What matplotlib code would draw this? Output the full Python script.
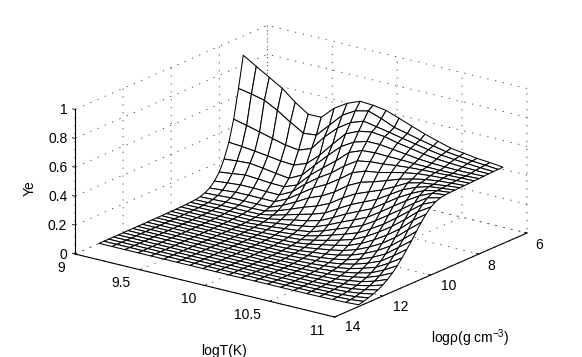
import matplotlib
matplotlib.use("Agg")
import matplotlib.pyplot as plt
import numpy as np
from matplotlib.transforms import Affine2D
from mpl_toolkits.mplot3d import proj3d

plt.rcParams['font.family'] = ['Liberation Sans', 'DejaVu Sans']
plt.rcParams['mathtext.default'] = 'regular'
plt.rcParams['font.size'] = 10
plt.rcParams['grid.linestyle'] = (0, (1.5, 8))
plt.rcParams['grid.color'] = '#333333'
plt.rcParams['grid.linewidth'] = 0.6

log_t = [9.0, 9.1, 9.2, 9.3, 9.4, 9.5, 9.6, 9.7, 9.8, 9.9, 10.0,
         10.1, 10.2, 10.3, 10.4, 10.5, 10.6, 10.7, 10.8, 10.9, 11.0]
log_rho = [7.0, 7.2, 7.4, 7.6, 7.8, 8.0, 8.2, 8.4, 8.6, 8.8, 9.0, 9.2, 9.4, 9.6, 9.8, 10.0,
           10.2, 10.4, 10.6, 10.8, 11.0, 11.2, 11.4, 11.6, 11.8, 12.0, 12.2, 12.4, 12.6, 12.8, 13.0]

# one row per logrho, one column per logT
ye = [
    [.866, .811, .757, .703, .628, .567, .568, .652, .708, .744, .738, .724, .692, .658, .625, .598, .571, .559, .545, .538, .528],
    [.652, .635, .613, .565, .505, .450, .459, .549, .640, .692, .713, .682, .643, .622, .600, .580, .562, .551, .541, .534, .527],
    [.454, .432, .409, .385, .361, .348, .381, .483, .566, .625, .657, .640, .623, .603, .586, .568, .553, .544, .537, .531, .526],
    [.308, .300, .290, .278, .265, .259, .292, .371, .470, .562, .602, .618, .608, .586, .570, .553, .541, .534, .529, .527, .525],
    [.206, .215, .220, .208, .194, .182, .226, .317, .405, .488, .541, .568, .568, .556, .545, .533, .526, .522, .520, .521, .523],
    [.131, .142, .154, .148, .140, .138, .172, .262, .335, .405, .484, .519, .525, .522, .520, .516, .514, .513, .514, .517, .521],
    [.083, .092, .100, .100, .097, .096, .140, .215, .280, .335, .405, .462, .478, .484, .495, .503, .508, .512, .515, .518, .520],
    [.050, .056, .064, .065, .064, .064, .105, .165, .225, .270, .330, .395, .428, .440, .462, .482, .497, .505, .510, .515, .518],
    [.030, .034, .040, .040, .040, .040, .075, .120, .170, .205, .255, .320, .365, .390, .420, .452, .475, .493, .505, .511, .517],
    [.018, .021, .025, .026, .026, .028, .052, .085, .120, .150, .190, .250, .300, .335, .370, .415, .462, .485, .496, .508, .516],
    [.012, .014, .016, .018, .018, .020, .036, .060, .085, .108, .138, .190, .240, .280, .320, .375, .430, .468, .495, .505, .514],
    [.009, .010, .012, .013, .013, .014, .025, .042, .060, .077, .100, .143, .190, .230, .270, .330, .390, .440, .482, .503, .513],
    [.007, .008, .009, .010, .010, .010, .018, .030, .042, .055, .072, .107, .148, .185, .225, .283, .345, .405, .460, .500, .511],
    [.006, .006, .007, .007, .008, .007, .013, .021, .030, .039, .052, .080, .114, .147, .183, .237, .298, .360, .425, .482, .505],
    [.005, .005, .005, .006, .006, .005, .009, .015, .021, .028, .038, .060, .087, .115, .146, .195, .250, .315, .385, .453, .492],
    [.004, .004, .004, .005, .005, .004, .007, .010, .015, .020, .027, .044, .065, .088, .115, .157, .210, .270, .340, .415, .470],
    [.004, .004, .004, .004, .004, .003, .005, .008, .010, .014, .019, .032, .049, .067, .088, .123, .170, .225, .290, .370, .435],
    [.003, .003, .003, .003, .003, .003, .004, .006, .008, .010, .014, .023, .036, .050, .067, .095, .135, .183, .245, .320, .393],
    [.003, .003, .003, .003, .003, .003, .003, .005, .006, .007, .010, .016, .026, .036, .050, .072, .105, .147, .200, .270, .345],
    [.003, .003, .003, .003, .003, .003, .003, .004, .005, .006, .007, .012, .018, .026, .037, .054, .080, .115, .160, .227, .295],
    [.002, .002, .002, .002, .002, .002, .003, .003, .004, .005, .005, .009, .013, .019, .027, .040, .060, .089, .125, .185, .250],
    [.002, .002, .002, .002, .002, .002, .002, .003, .003, .004, .004, .006, .009, .013, .020, .029, .044, .068, .097, .147, .205],
    [.002, .002, .002, .002, .002, .002, .002, .002, .003, .003, .003, .005, .007, .009, .014, .021, .032, .050, .073, .115, .165],
    [.002, .002, .002, .002, .002, .002, .002, .002, .002, .003, .003, .004, .005, .007, .010, .015, .023, .037, .055, .088, .130],
    [.002, .002, .002, .002, .002, .002, .002, .002, .002, .002, .003, .003, .004, .005, .007, .011, .016, .027, .041, .066, .100],
    [.001, .001, .001, .001, .001, .001, .001, .002, .002, .002, .002, .003, .003, .004, .005, .008, .011, .019, .030, .049, .076],
    [.001, .001, .001, .001, .001, .001, .001, .001, .002, .002, .002, .002, .002, .003, .004, .005, .008, .013, .021, .036, .057],
    [.001, .001, .001, .001, .001, .001, .001, .001, .001, .002, .002, .002, .002, .002, .003, .004, .006, .009, .015, .026, .042],
    [.001, .001, .001, .001, .001, .001, .001, .001, .001, .001, .002, .002, .002, .002, .002, .003, .004, .007, .010, .017, .031],
    [.001, .001, .001, .001, .001, .001, .001, .001, .001, .001, .001, .002, .002, .002, .002, .002, .003, .005, .007, .011, .021],
    [.001, .001, .001, .001, .001, .001, .001, .001, .001, .001, .001, .001, .002, .002, .002, .002, .002, .003, .005, .007, .012],
]

t_ticks = [9, 9.5, 10, 10.5, 11]
t_labels = ['9', '9.5', '10', '10.5', '11']
rho_ticks = [6, 8, 10, 12, 14]
ye_ticks = [0, 0.2, 0.4, 0.6, 0.8, 1]
ye_labels = ['0', '0.2', '0.4', '0.6', '0.8', '1']

W, H = 582, 357
fig = plt.figure(figsize=(W / 100, H / 100), dpi=100)
side = 500.0
ax = fig.add_axes([0.1, 0.0, side / W, side / H], projection='3d', proj_type='ortho')
ax.view_init(elev=19, azim=-53.3)
ax.set_box_aspect((324, 322, 153))
ax.patch.set_alpha(0)

X, Y = np.meshgrid(log_t, log_rho)
ax.plot_surface(X, Y, np.array(ye), rstride=1, cstride=1, color='white', shade=False,
                edgecolor='black', linewidth=0.75, antialiased=True)

ax.set_xlim(9, 11)
ax.set_ylim(14, 6)
ax.set_zlim(0, 1)
ax.set_xticks(t_ticks, t_labels)
ax.set_yticks(rho_ticks, [str(v) for v in rho_ticks])
ax.set_zticks(ye_ticks, ye_labels)

for axis in (ax.xaxis, ax.yaxis, ax.zaxis):
    axis.set_pane_color((1, 1, 1, 0))
    axis.pane.set_edgecolor((1, 1, 1, 0))
    axis.line.set_color('black')
    axis.line.set_linewidth(0.8)
    axis._axinfo['tick']['inward_factor'] = 0.0
    axis._axinfo['tick']['outward_factor'] = 0.12
    axis._axinfo['tick']['linewidth'] = {True: 0.6, False: 0.6}
ax.zaxis.set_ticks_position('upper')
ax.tick_params(axis='x', pad=-3)
ax.tick_params(axis='y', pad=-2)
ax.tick_params(axis='z', pad=0)
for lab in ax.get_zticklabels():
    lab.set_ha('right')


# mplot3d resets the label transform on every get_major_ticks, so lock it after the pixel shift
def nudge(axis, dxs, dys):
    for tick, dx, dy in zip(axis.get_major_ticks(), dxs, dys):
        tick.label1.set_transform(ax.transData + Affine2D().translate(dx, dy))
        tick.label1.set_transform = lambda t: None


nudge(ax.xaxis, [-8, -13, -11, -17, -12], [0, 0, 0, 0, 0])
nudge(ax.yaxis, [3, 3, 9, 9, 9], [2, 2, 3, 3, 4])
nudge(ax.zaxis, [13] * 6, [7] * 6)


# fit the axes box on the corners of the original: (75,254) and (527,233) in pixels
def corners_px():
    fig.canvas.draw()
    x, y, _ = proj3d.proj_transform(np.array([9., 11.]), np.array([14., 6.]), np.array([0., 0.]), ax.get_proj())
    return ax.transData.transform(np.column_stack([x, y]))


want = np.array([[75, H - 254], [527, H - 233]], dtype=float)
got = corners_px()
side *= np.linalg.norm(want[1] - want[0]) / np.linalg.norm(got[1] - got[0])
ax.set_position([0.1, 0.0, side / W, side / H])
got = corners_px()
shift = (want - got).mean(axis=0)
ax.set_position([0.1 + shift[0] / W, shift[1] / H, side / W, side / H])

fig.text(224 / W, 1 - 351 / H, 'logT(K)', ha='center', va='center')
fig.text(30 / W, 1 - 188 / H, 'Ye', ha='center', va='center', rotation=90)
fig.text(470 / W, 1 - 338 / H, 'log\u03c1(g cm$^{-3}$)', ha='center', va='center')

fig.savefig('out.png', dpi=100)
